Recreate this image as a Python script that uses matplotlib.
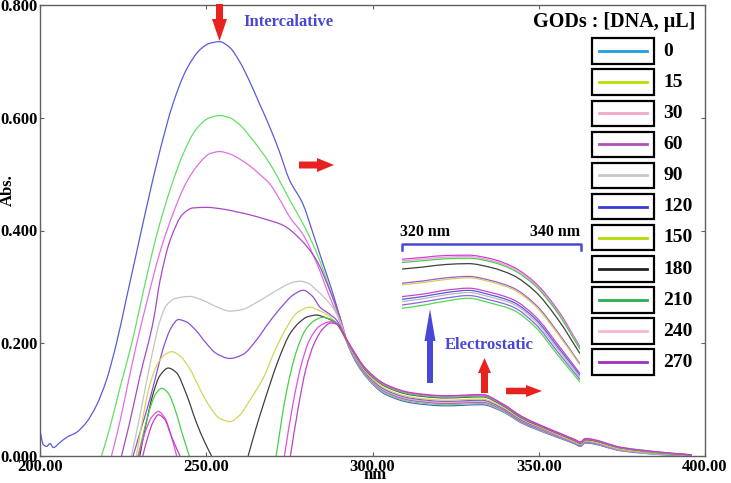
import numpy as np
import matplotlib
matplotlib.use("Agg")
import matplotlib.pyplot as plt
from matplotlib.patches import FancyArrow, Rectangle, PathPatch
from matplotlib.lines import Line2D
from matplotlib.path import Path
from matplotlib.transforms import IdentityTransform

plt.rcParams["font.family"] = ["Liberation Serif", "DejaVu Serif"]
plt.rcParams["font.weight"] = "bold"

W, H = 731, 483
nan = float("nan")

# DNA added (uL), one spectrum each
dna = ["0", "15", "30", "60", "90", "120", "150", "180", "210", "240", "270"]

# spectra up to ~290 nm (nan = below zero, line broken)
x_0 = [200, 201, 202, 203, 204, 206, 208, 211, 214, 217, 220, 223, 226, 229, 232, 236, 240, 244, 248, 251,
       254, 257, 260, 263, 266, 269, 272, 275, 279, 282, 285, 288, 290]
y_0 = [0.045, 0.02, 0.017, 0.022, 0.015, 0.024, 0.033, 0.042, 0.06, 0.09, 0.135, 0.2, 0.28, 0.36, 0.44, 0.54,
       0.625, 0.685, 0.72, 0.732, 0.735, 0.725, 0.7, 0.665, 0.625, 0.585, 0.54, 0.49, 0.448, 0.397, 0.343, 0.29, 0.25]
x_15 = [218.5, 221, 224, 227.6, 231, 235, 239, 243, 247, 251, 254, 257, 260, 263, 266, 269.2, 272, 275.2,
        279.1, 283.3, 286.3, 289.3]
y_15 = [0, 0.05, 0.12, 0.2, 0.29, 0.39, 0.47, 0.535, 0.58, 0.6, 0.604, 0.6, 0.588, 0.568, 0.545, 0.518, 0.489,
        0.453, 0.412, 0.359, 0.311, 0.258]
x_30 = [221.5, 224, 226.5, 229.1, 232, 236, 240, 244, 248, 251, 254, 257, 260, 263, 266, 269.2, 272, 275.2,
        279.1, 283.3, 287.2, 289.3]
y_30 = [0, 0.06, 0.13, 0.2, 0.27, 0.36, 0.43, 0.485, 0.52, 0.536, 0.54, 0.536, 0.527, 0.515, 0.5, 0.482,
        0.456, 0.423, 0.393, 0.341, 0.281, 0.252]
x_60 = [224.5, 227, 230, 234.1, 236.1, 239.1, 243.1, 246, 250.1, 255, 259.2, 263, 267.2, 273.2, 278.2, 283.2,
        287.2, 290]
y_60 = [0, 0.06, 0.14, 0.24, 0.311, 0.382, 0.43, 0.44, 0.441, 0.438, 0.433, 0.428, 0.421, 0.409, 0.385,
        0.347, 0.293, 0.25]
x_90 = [227.5, 230, 233, 236.1, 238.1, 241, 245.1, 249, 253, 257.1, 261, 265, 269, 273, 276, 278.2, 280.5,
        283, 286, 288.2, 290.2]
y_90 = [0, 0.07, 0.16, 0.24, 0.268, 0.28, 0.283, 0.276, 0.265, 0.257, 0.26, 0.272, 0.286, 0.3, 0.308, 0.31,
        0.307, 0.295, 0.278, 0.262, 0.24]
x_120 = [228, 230.5, 233, 235, 237, 239.5, 241.6, 244, 247, 250, 253, 257.1, 261, 265, 269, 273, 276, 279.2,
         282, 284.2, 287, 289.2]
y_120 = [0, 0.05, 0.1, 0.145, 0.19, 0.228, 0.242, 0.238, 0.222, 0.2, 0.182, 0.173, 0.18, 0.205, 0.238, 0.267,
         0.285, 0.294, 0.283, 0.264, 0.252, 0.241]
x_150 = [229, 231, 233.1, 235.5, 237.5, 239.6, 242, 245, 248, 251, 254, 257.1, 260, 263, 267.2, 270.5, 274.2,
         277.5, 281.2, 284, 286.5, 289]
y_150 = [0, 0.07, 0.128, 0.165, 0.18, 0.185, 0.178, 0.155, 0.12, 0.088, 0.067, 0.061, 0.072, 0.098, 0.139,
         0.185, 0.228, 0.255, 0.264, 0.258, 0.25, 0.236]
x_180 = [230, 232, 234, 236, 238.6, 241, 244, 247, 249.5, 251.6, nan, 262.6, 265, 269.2, 272, 275.2, 278,
         280.5, 283.2, 286, 289]
y_180 = [0, 0.06, 0.11, 0.142, 0.156, 0.148, 0.11, 0.06, 0.025, 0, nan, 0, 0.05, 0.128, 0.175, 0.217, 0.237,
         0.247, 0.25, 0.245, 0.236]
x_210 = [229.5, 231.5, 233.5, 235, 236.6, 238.5, 240.5, 242.5, 244.9, nan, 271, 274, 277.2, 280, 282.5,
         285.1, 287.2, 289.3]
y_210 = [0, 0.05, 0.092, 0.112, 0.12, 0.112, 0.085, 0.045, 0, nan, 0, 0.11, 0.187, 0.225, 0.24, 0.246,
         0.243, 0.236]
x_240 = [229.6, 231.5, 233.5, 235.6, 237.5, 239.5, 241.1, nan, 273.5, 276, 278.5, 281, 284, 287.2, 289.3]
y_240 = [0, 0.04, 0.068, 0.079, 0.068, 0.035, 0, nan, 0, 0.09, 0.16, 0.205, 0.23, 0.238, 0.235]
x_270 = [230.9, 232.5, 234, 235.6, 237.5, 239.5, 242.1, nan, 275.3, 277.5, 280, 282.5, 285, 287.5, 289.5]
y_270 = [0, 0.035, 0.06, 0.073, 0.065, 0.035, 0, nan, 0, 0.08, 0.155, 0.2, 0.225, 0.236, 0.233]

# common tail of the spectra (>290 nm)
tail_nm = [293, 298, 304, 312, 322, 333, 339, 345, 352, 361, 362.5, 364, 375, 388, 396]
tail_0 = [0.191, 0.141, 0.109, 0.094, 0.089, 0.091, 0.079, 0.058, 0.041, 0.021, 0.017, 0.023, 0.009, 0.002, 0.0]
tail_15 = [0.192, 0.142, 0.111, 0.096, 0.091, 0.093, 0.080, 0.059, 0.042, 0.022, 0.018, 0.024, 0.010, 0.002, 0.0]
tail_30 = [0.193, 0.144, 0.113, 0.098, 0.093, 0.095, 0.082, 0.060, 0.043, 0.023, 0.019, 0.025, 0.010, 0.003, 0.0]
tail_60 = [0.193, 0.145, 0.114, 0.099, 0.094, 0.096, 0.083, 0.061, 0.044, 0.023, 0.019, 0.025, 0.011, 0.003, 0.001]
tail_90 = [0.194, 0.146, 0.115, 0.100, 0.095, 0.097, 0.084, 0.062, 0.045, 0.024, 0.020, 0.026, 0.011, 0.003, 0.001]
tail_120 = [0.195, 0.147, 0.117, 0.102, 0.097, 0.099, 0.085, 0.063, 0.046, 0.025, 0.021, 0.027, 0.012, 0.004, 0.001]
tail_150 = [0.195, 0.149, 0.119, 0.104, 0.099, 0.101, 0.087, 0.065, 0.047, 0.025, 0.021, 0.027, 0.012, 0.004, 0.001]
tail_180 = [0.197, 0.152, 0.123, 0.108, 0.103, 0.105, 0.090, 0.067, 0.049, 0.027, 0.023, 0.029, 0.014, 0.005, 0.002]
tail_210 = [0.198, 0.153, 0.124, 0.109, 0.104, 0.106, 0.091, 0.068, 0.050, 0.028, 0.024, 0.030, 0.014, 0.005, 0.002]
tail_240 = [0.198, 0.154, 0.126, 0.111, 0.106, 0.108, 0.092, 0.069, 0.050, 0.028, 0.024, 0.030, 0.015, 0.006, 0.002]
tail_270 = [0.199, 0.155, 0.127, 0.112, 0.107, 0.109, 0.093, 0.070, 0.051, 0.029, 0.025, 0.031, 0.015, 0.006, 0.002]

heads_x = [x_0, x_15, x_30, x_60, x_90, x_120, x_150, x_180, x_210, x_240, x_270]
heads_y = [y_0, y_15, y_30, y_60, y_90, y_120, y_150, y_180, y_210, y_240, y_270]
tails = [tail_0, tail_15, tail_30, tail_60, tail_90, tail_120, tail_150, tail_180, tail_210, tail_240, tail_270]

line_colors = ["#5b5bd8", "#62e062", "#e070e0", "#a848c8", "#c4c4c4", "#8a50d8",
               "#d4d45a", "#404040", "#48d048", "#e050e0", "#c040c8"]
legend_colors = ["#1e9fdc", "#b4e000", "#f4a6c8", "#b050b8", "#c8c8c8", "#3c3cd0",
                 "#b0dc00", "#202020", "#28b050", "#f8b4d0", "#a030c0"]

# zoomed view 320-340 nm (top line first)
inset_nm = [320, 322.5, 325, 327.5, 330, 332.5, 335, 337.5, 340]
inset_lines = [
    [0.1050, 0.1057, 0.1064, 0.1065, 0.1052, 0.1022, 0.0963, 0.0864, 0.0729],
    [0.1044, 0.1051, 0.1058, 0.1060, 0.1046, 0.1017, 0.0957, 0.0858, 0.0725],
    [0.1038, 0.1045, 0.1052, 0.1054, 0.1041, 0.1011, 0.0952, 0.0853, 0.0720],
    [0.1014, 0.1022, 0.1031, 0.1034, 0.1020, 0.0991, 0.0931, 0.0831, 0.0704],
    [0.0962, 0.0971, 0.0982, 0.0987, 0.0972, 0.0945, 0.0884, 0.0783, 0.0666],
    [0.0956, 0.0965, 0.0976, 0.0982, 0.0967, 0.0939, 0.0878, 0.0777, 0.0662],
    [0.0913, 0.0923, 0.0937, 0.0944, 0.0928, 0.0902, 0.0840, 0.0738, 0.0631],
    [0.0903, 0.0914, 0.0928, 0.0936, 0.0919, 0.0893, 0.0831, 0.0729, 0.0624],
    [0.0895, 0.0906, 0.0920, 0.0928, 0.0911, 0.0886, 0.0823, 0.0721, 0.0618],
    [0.0882, 0.0894, 0.0908, 0.0917, 0.0900, 0.0875, 0.0812, 0.0710, 0.0609],
    [0.0870, 0.0882, 0.0897, 0.0907, 0.0889, 0.0864, 0.0801, 0.0699, 0.0600],
]
inset_colors = ["#d040d0", "#f098e0", "#48d048", "#404040", "#a058d0", "#d0d060",
                "#c848c8", "#5858e0", "#b8b8b8", "#8868e0", "#50d850"]


def smooth_path(xs, ys):
    # cubic (pchip-like) bezier through the points, broken at nan
    xs = np.asarray(xs, dtype=float)
    ys = np.asarray(ys, dtype=float)
    verts, codes = [], []
    cut = np.where(np.isnan(xs))[0]
    for seg in np.split(np.arange(len(xs)), cut):
        seg = seg[~np.isnan(xs[seg])]
        x, y = xs[seg], ys[seg]
        if len(x) < 2:
            continue
        h = np.diff(x)
        d = np.diff(y) / h
        m = np.empty_like(x)
        m[0], m[-1] = d[0], d[-1]
        for k in range(1, len(x) - 1):
            if d[k - 1] * d[k] <= 0:
                m[k] = 0
            else:
                w1, w2 = 2 * h[k] + h[k - 1], h[k] + 2 * h[k - 1]
                m[k] = (w1 + w2) / (w1 / d[k - 1] + w2 / d[k])
        verts.append((x[0], y[0]))
        codes.append(Path.MOVETO)
        for k in range(len(x) - 1):
            verts += [(x[k] + h[k] / 3, y[k] + m[k] * h[k] / 3),
                      (x[k + 1] - h[k] / 3, y[k + 1] - m[k + 1] * h[k] / 3),
                      (x[k + 1], y[k + 1])]
            codes += [Path.CURVE4] * 3
    return Path(verts, codes)


fig = plt.figure(figsize=(W / 100, H / 100), dpi=100)
ax = fig.add_axes([40 / W, 27 / H, 665 / W, 451 / H])

for hx, hy, tl, c in zip(heads_x, heads_y, tails, line_colors):
    ax.add_patch(PathPatch(smooth_path(hx + tail_nm, hy + tl), fill=False, edgecolor=c, lw=0.9))

ax.set_xlim(200, 400)
ax.set_ylim(0, 0.8)
ax.set_xticks([200, 250, 300, 350, 400])
ax.set_yticks([0, 0.2, 0.4, 0.6, 0.8])
ax.xaxis.set_major_formatter(plt.FormatStrFormatter("%.2f"))
ax.yaxis.set_major_formatter(plt.FormatStrFormatter("%.3f"))
ax.tick_params(direction="in", length=3, top=True, right=True, colors="#606060", labelcolor="black",
               labelsize=12)
ax.tick_params(axis="y", pad=1.5)
ax.tick_params(axis="x", pad=2.5)
for s in ax.spines.values():
    s.set_color("#606060")
    s.set_linewidth(1)
ax.set_xlabel("nm", size=12, weight="bold", va="bottom")
ax.set_ylabel("Abs.", size=12, weight="bold")
ax.xaxis.set_label_coords(0.504, -0.059)
ax.yaxis.set_label_coords(-0.037, 0.59)

# inset with the 320-340 nm region
ax_in = fig.add_axes([401.7 / W, 1 - 385 / H, 178.3 / W, 135 / H])
ax_in.axis("off")
for vals, c in zip(inset_lines, inset_colors):
    ax_in.add_patch(PathPatch(smooth_path(inset_nm, vals), fill=False, edgecolor=c, lw=0.9))
ax_in.set_xlim(320, 340)
ax_in.set_ylim(0.0589, 0.1084)

idt = IdentityTransform()


def arrow(x0, y0, x1, y1, w, hw, hl, color):
    fig.add_artist(FancyArrow(x0, H - y0, x1 - x0, y0 - y1, width=w, head_width=hw, head_length=hl,
                              length_includes_head=True, color=color, lw=0, transform=idt))


red = "#e8221e"
blue = "#4848d4"
arrow(219.5, 4, 219.5, 41, 7, 15, 22, red)
arrow(299, 165, 334, 165, 7, 14, 17, red)
arrow(430, 383, 430, 309, 6, 11, 32, blue)
arrow(484.5, 393, 484.5, 358, 7, 13, 15, red)
arrow(506, 391, 542, 391, 6.5, 12, 16, red)

fig.text(288 / W, 1 - 22 / H, "Intercalative", color=blue, size=12, weight="bold", ha="center", va="center")
fig.text(489 / W, 1 - 345 / H, "Electrostatic", color=blue, size=12, weight="bold", ha="center", va="center")

# bracket over the inset
fig.add_artist(Line2D([401.7, 401.7, 581, 581], [H - 250, H - 244, H - 244, H - 250], color=blue, lw=1.8,
                      transform=idt))
fig.text(400 / W, 1 - 232 / H, "320 nm", size=11.5, weight="bold", ha="left", va="center")
fig.text(580 / W, 1 - 232 / H, "340 nm", size=11.5, weight="bold", ha="right", va="center")

# legend: boxed line samples
fig.text(695 / W, 1 - 22 / H, "GODs : [DNA, \u03bcL]", size=14.5, weight="bold", ha="right", va="center")
for i, (lab, c) in enumerate(zip(dna, legend_colors)):
    top = 38.3 + i * 31.1
    fig.add_artist(Rectangle((592, H - top - 25.5), 62, 25.5, fill=False, ec="black", lw=1.6, transform=idt))
    fig.add_artist(Line2D([599, 647], [H - top - 12.7] * 2, color=c, lw=2, transform=idt))
    fig.text(663 / W, 1 - (top + 13) / H, lab, size=14, weight="bold", ha="left", va="center")

fig.savefig("out.png", dpi=100)
